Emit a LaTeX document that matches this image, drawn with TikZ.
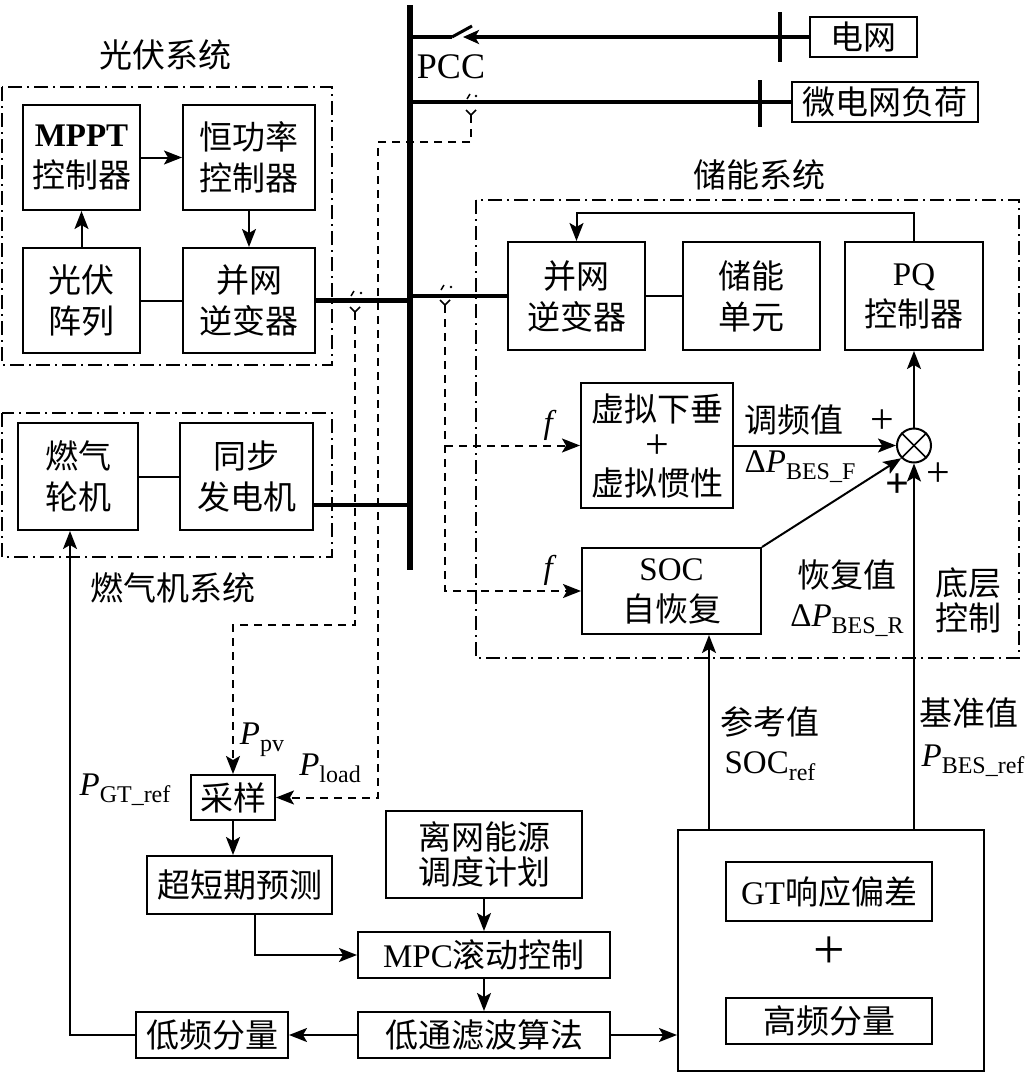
\documentclass[tikz,border=0pt]{standalone}
\usepackage{fontspec}
\setmainfont{Liberation Serif}
\newfontfamily\cjk{Noto Sans CJK SC}
\usetikzlibrary{arrows.meta}
\newcommand\zh[1]{{\cjk #1}}
\newcommand\sbs[1]{\raisebox{-7pt}{\fontsize{24}{24}\selectfont #1}}
\begin{document}
\begin{tikzpicture}[x=1pt,y=-1pt, font=\fontsize{33}{41}\selectfont,
 box/.style={draw, line width=2pt, inner sep=0pt, align=center},
 grp/.style={draw, line width=1.8pt, dash pattern=on 14pt off 5pt on 2pt off 5pt},
 tip/.style={-{Stealth[length=18pt,width=14pt,inset=4pt]}},
 arr/.style={line width=2pt, tip},
 ln/.style={line width=2pt},
 pw/.style={line width=4.5pt},
 dsh/.style={line width=2pt, dash pattern=on 8pt off 6pt},
 lbl/.style={inner sep=0pt, align=center},
 pls/.style={inner sep=0pt, font=\fontsize{42}{42}\selectfont}]
\useasboundingbox (0,0) rectangle (1031,1076);

% group frames
\draw[grp] (2,87) rectangle (332,365);
\draw[grp] (2,413) rectangle (332,557);
\draw[grp] (476,200) rectangle (1019,658);
\node[lbl] (tpv) at (165,55) {\zh{光伏系统}};
\node[lbl] (tgt) at (173,588) {\zh{燃气机系统}};
\node[lbl] (tes) at (759,175) {\zh{储能系统}};

% bus
\coordinate (bustop) at (410,5);
\coordinate (busbot) at (410,570);
\draw[line width=5.5pt] (bustop) -- (busbot);
\node[lbl, font=\fontsize{36}{40}\selectfont] (pcc) at (451,67) {PCC};

% grid and load
\node[box, minimum width=107pt, minimum height=40pt] (grid) at (863.5,37) {\zh{电网}};
\node[box, minimum width=186pt, minimum height=40pt] (load) at (885,102) {\zh{微电网负荷}};
\coordinate (sw1) at (452,37);
\coordinate (sw2) at (472,26);
\coordinate (swt) at (463,37);
\draw[pw] (bustop |- grid) -- (sw1);
\draw[line width=3pt] (sw1) -- (sw2);
\draw[pw, -{Stealth[length=16pt,width=14pt,inset=4pt]}] (grid.west) -- (swt);
\draw[line width=4.5pt] (780,12) -- (780,62);
\draw[pw] (bustop |- load) -- (load.west);
\draw[line width=4.5pt] (760,80) -- (760,127);

% PV system
\node[box, minimum width=117pt, minimum height=105pt] (mppt) at (81.5,157.5) {\textbf{MPPT}\\\zh{控制器}};
\node[box, minimum width=132pt, minimum height=105pt] (hgl) at (249,157.5) {\zh{恒功率}\\\zh{控制器}};
\node[box, minimum width=117pt, minimum height=105pt] (pva) at (81.5,300.5) {\zh{光伏}\\\zh{阵列}};
\node[box, minimum width=132pt, minimum height=105pt] (pvi) at (249,300.5) {\zh{并网}\\\zh{逆变器}};
\draw[arr] (mppt.east) -- (hgl.west);
\draw[arr] (pva.north) -- (mppt.south);
\draw[arr] (hgl.south) -- (pvi.north);
\draw[ln] (pva.east) -- (pvi.west);
\draw[pw] (pvi.east) -- (pvi.east -| bustop);

% gas system
\node[box, minimum width=120pt, minimum height=107pt] (gt) at (78,476.5) {\zh{燃气}\\\zh{轮机}};
\node[box, minimum width=133pt, minimum height=107pt] (syn) at (246.5,476.5) {\zh{同步}\\\zh{发电机}};
\draw[ln] (gt.east) -- (syn.west);
\coordinate (gy) at (0,505);
\draw[pw] (syn.east |- gy) -- (bustop |- gy);

% ESS
\node[box, minimum width=137pt, minimum height=108pt] (einv) at (576.5,296) {\zh{并网}\\\zh{逆变器}};
\node[box, minimum width=137pt, minimum height=108pt] (eunit) at (751.5,296) {\zh{储能}\\\zh{单元}};
\node[box, minimum width=138pt, minimum height=108pt] (pq) at (914,296) {PQ\\\zh{控制器}};
\draw[ln] (einv.east) -- (eunit.west);
\draw[pw] (bustop |- einv) -- (einv.west);
\coordinate (fb) at (0,213);
\draw[arr] (pq.north) |- (einv.north |- fb) -- (einv.north);

\node[box, minimum width=152pt, minimum height=125pt] (vd) at (657,445.5) {\zh{虚拟下垂}\\[-4pt]{\fontsize{42}{42}\selectfont +}\\[-4pt]\zh{虚拟惯性}};
\node[box, minimum width=179pt, minimum height=86pt] (soc) at (671.5,591) {SOC\\\zh{自恢复}};
\node[draw, circle, line width=2pt, minimum size=34pt, inner sep=0pt] (sum) at (914,445.5) {};
\draw[line width=1.6pt] (sum.north west) -- (sum.south east);
\draw[line width=1.6pt] (sum.north east) -- (sum.south west);
\draw[arr] (vd.east) -- (sum.west);
\draw[arr] (soc.north east) -- (sum.south west);
\draw[arr] (sum.north) -- (pq.south);

\node[lbl] (fa) at (550,425) {\textit{f}};
\node[lbl] (fb2) at (550,570) {\textit{f}};
\node[lbl] (tfv) at (794,420) {\zh{调频值}};
\node[lbl] (dpf) at (800,467) {Δ\textit{P}\sbs{BES\_F}};
\node[pls] (p1) at (882,422) {+};
\node[pls] (p2) at (897,486) {\textbf{+}};
\node[pls] (p3) at (938,475) {+};
\node[lbl] (hfv) at (847,575) {\zh{恢复值}};
\node[lbl] (dpr) at (847,621) {Δ\textit{P}\sbs{BES\_R}};
\node[lbl] (dc) at (968,600) {\zh{底层}\\[-6pt]\zh{控制}};

% bottom control
\node[box, minimum width=84pt, minimum height=45pt] (samp) at (233,797.5) {\zh{采样}};
\node[box, minimum width=185pt, minimum height=58pt] (ultra) at (239.5,885) {\zh{超短期预测}};
\node[box, minimum width=196pt, minimum height=87pt] (plan) at (484,854.5) {\zh{离网能源}\\[-6pt]\zh{调度计划}};
\node[box, minimum width=252pt, minimum height=46pt] (mpc) at (484,955) {MPC\zh{滚动控制}};
\node[box, minimum width=252pt, minimum height=46pt] (lpf) at (484,1035) {\zh{低通滤波算法}};
\node[box, minimum width=152pt, minimum height=46pt] (lfc) at (212,1035) {\zh{低频分量}};
\node[box, minimum width=306pt, minimum height=241pt] (big) at (831,950.5) {};
\node[box, minimum width=206pt, minimum height=59pt] (gtd) at (829,891.5) {GT\zh{响应偏差}};
\node[lbl, font=\fontsize{56}{56}\selectfont] (bplus) at (829,953) {+};
\node[box, minimum width=206pt, minimum height=46pt] (hf) at (829,1021) {\zh{高频分量}};

\draw[arr] (samp.south) -- (ultra.north -| samp.south);
\coordinate (ux) at (255,0);
\draw[arr] (ultra.south -| ux) |- (mpc.west);
\draw[arr] (plan.south) -- (mpc.north);
\draw[arr] (mpc.south) -- (lpf.north);
\draw[arr] (lpf.east) -- (big.west |- lpf.east);
\draw[arr] (lpf.west) -- (lfc.east);
\coordinate (gtx) at (70,0);
\draw[arr] (lfc.west) -| (gt.south -| gtx);
\coordinate (socin) at (709,0);
\draw[arr] (big.north -| socin) -- (soc.south -| socin);
\draw[arr] (big.north -| sum) -- (sum.south);

\node[lbl] (ckz) at (770,722) {\zh{参考值}};
\node[lbl] (socr) at (770,766) {SOC\sbs{ref}};
\node[lbl] (jzz) at (969,713) {\zh{基准值}};
\node[lbl] (pbr) at (973,761) {\textit{P}\sbs{BES\_ref}};
\node[lbl] (ppv) at (262,740) {\textit{P}\sbs{pv}};
\node[lbl] (pld) at (330,768) {\textit{P}\sbs{load}};
\node[lbl] (pgt) at (125,790) {\textit{P}\sbs{GT\_ref}};

% sensors and measurement lines
\coordinate (sL) at (471,115);
\coordinate (sP) at (355,312);
\coordinate (sF) at (445,305);
\draw[line width=1.5pt] (466,110) -- (471,115) -- (476,110);
\draw[line width=1.5pt] (467,99) -- (470,94); \fill (476,96) circle (1.4pt);
\draw[line width=1.5pt] (350,307) -- (355,312) -- (360,307);
\draw[line width=1.5pt] (351,296) -- (354,291); \fill (361,293) circle (1.4pt);
\draw[line width=1.5pt] (440,300) -- (445,305) -- (450,300);
\draw[line width=1.5pt] (441,290) -- (444,285); \fill (451,287) circle (1.4pt);
\coordinate (pl1) at (378,142);
\coordinate (pp1) at (233,625);
\draw[dsh, tip] (sL) |- (pl1) |- (samp.east);
\draw[dsh, tip] (sP) |- (pp1) -- (samp.north);
\draw[dsh, tip] (sF) |- (soc.west);
\draw[dsh, tip] (sF |- vd.west) -- (vd.west);
\end{tikzpicture}
\end{document}
